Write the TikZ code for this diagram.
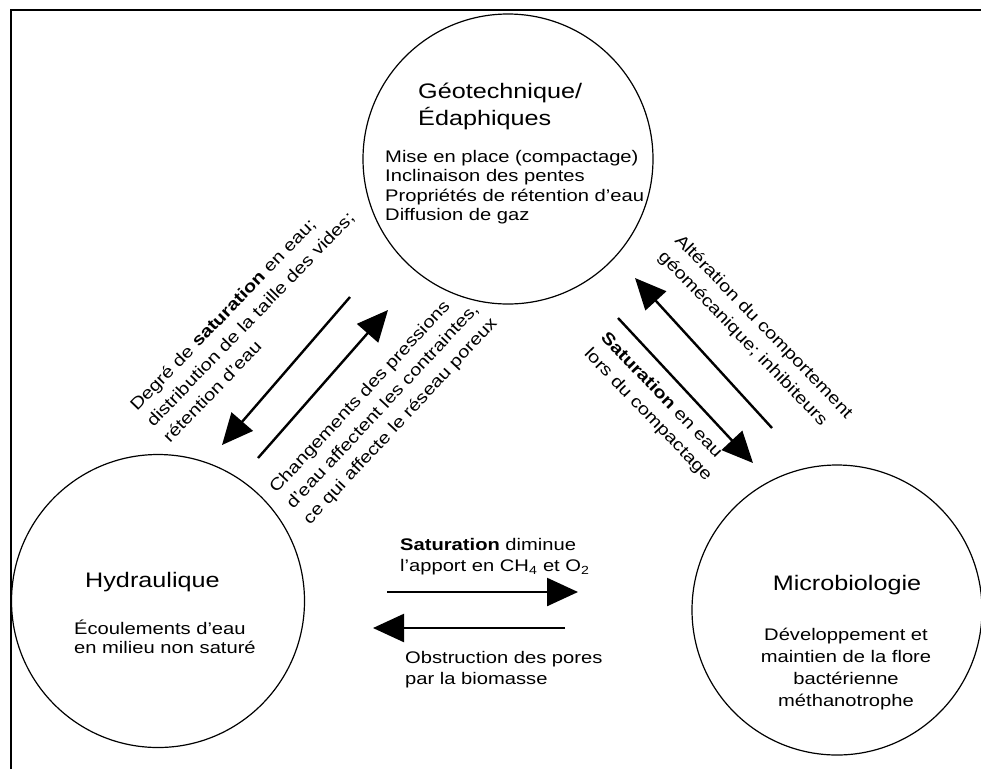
\documentclass[tikz,border=0pt]{standalone}
\usepackage{fontspec}
\setmainfont{Liberation Sans}[FakeStretch=1.2]
\usetikzlibrary{arrows.meta}

\begin{document}
\begin{tikzpicture}[x=1pt,y=1pt,
  zonecircle/.style={circle, draw, line width=1.2pt, inner sep=0pt},
  titletext/.style={font=\fontsize{21}{27}\selectfont, inner sep=0pt},
  bodytext/.style={font=\fontsize{16.8}{19.5}\selectfont, inner sep=0pt},
  rotlabel/.style={font=\fontsize{16.8}{23}\selectfont, inner sep=0pt, align=left},
  flow/.style={line width=2.4pt, -{Triangle[length=31pt,width=28pt]}},
]
\useasboundingbox (0,0) rectangle (981,-769);

% frame
\draw[line width=2pt] (11,-769) -- (11,-10) -- (981,-10);

% the three domains
\node[zonecircle, minimum size=290pt] (geo) at (508,-159) {};
\node[zonecircle, minimum size=293pt] (hyd) at (158,-601) {};
\node[zonecircle, minimum size=290pt] (mic) at (837,-610) {};

% domain texts
\node[titletext, anchor=west, align=left] (geot) at (418,-106) {Géotechnique/\\Édaphiques};
\node[bodytext, anchor=west, align=left] (geob) at (385,-187)
  {Mise en place (compactage)\\Inclinaison des pentes\\Propriétés de rétention d'eau\\Diffusion de gaz};

\node[titletext, anchor=west] (hydt) at (85,-582) {Hydraulique};
\node[bodytext, anchor=west, align=left] (hydb) at (74,-637) {Écoulements d'eau\\en milieu non saturé};

\node[titletext] (mict) at (847,-585) {Microbiologie};
\node[bodytext, align=center, font=\fontsize{16.8}{22}\selectfont] (micb) at (846,-669)
  {Développement et\\maintien de la flore\\bactérienne\\méthanotrophe};

% arrow end points
\coordinate (a1s) at (350,-297); \coordinate (a1e) at (222,-445);
\coordinate (a2s) at (258,-458); \coordinate (a2e) at (388,-310);
\coordinate (a3s) at (618,-318); \coordinate (a3e) at (753,-463);
\coordinate (a4s) at (772,-428); \coordinate (a4e) at (635,-278);
\coordinate (a5s) at (387,-592); \coordinate (a5e) at (578,-592);
\coordinate (a6s) at (565,-628); \coordinate (a6e) at (373,-628);

\draw[flow] (a1s) -- (a1e);
\draw[flow] (a2s) -- (a2e);
\draw[flow] (a3s) -- (a3e);
\draw[flow] (a4s) -- (a4e);
\draw[flow] (a5s) -- (a5e);
\draw[flow] (a6s) -- (a6e);

% interaction labels
\node[rotlabel, rotate=46] (lbl1) at (250,-319)
  {Degré de \textbf{saturation} en eau;\\distribution de la taille des vides;\\rétention d'eau};
\node[rotlabel, rotate=47] (lbl2) at (384,-406)
  {Changements des pressions\\d'eau affectent les contraintes,\\ce qui affecte le réseau poreux};
\node[rotlabel, rotate=-46] (lbl3) at (755,-335)
  {Altération du comportement\\géomécanique; inhibiteurs};
\node[rotlabel, rotate=-46] (lbl4) at (656,-407)
  {\textbf{Saturation} en eau\\lors du compactage};

\node[bodytext, anchor=west, align=left, font=\fontsize{16.8}{21}\selectfont] (lbl5) at (400,-557)
  {\textbf{Saturation} diminue\\l'apport en CH\textsubscript{4} et O\textsubscript{2}};
\node[bodytext, anchor=west, align=left, font=\fontsize{16.8}{21}\selectfont] (lbl6) at (405,-670)
  {Obstruction des pores\\par la biomasse};
\end{tikzpicture}
\end{document}
